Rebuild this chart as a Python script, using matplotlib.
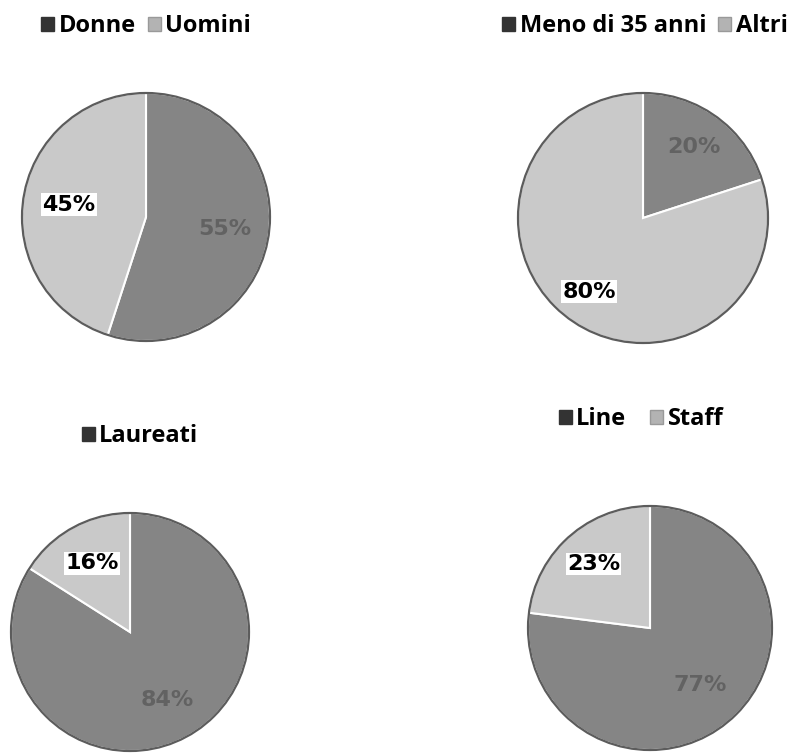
import matplotlib
matplotlib.use('Agg')
import matplotlib.pyplot as plt
import numpy as np
from matplotlib.patches import Circle, Patch

plt.rcParams['font.family'] = ['Open Sans', 'DejaVu Sans']

# four small pies: first slice is the dark one, drawn clockwise from 12 o'clock
gender_labels = ['Donne', 'Uomini']
gender_values = [55, 45]
age_labels = ['Meno di 35 anni', 'Altri']
age_values = [20, 80]
degree_labels = ['Laureati', 'Non laureati']
degree_values = [84, 16]
role_labels = ['Line', 'Staff']
role_values = [77, 23]

DARK = '#858585'
LIGHT = '#c9c9c9'
W, H = 793, 753

fig = plt.figure(figsize=(W / 100, H / 100), dpi=100)
fig.patch.set_facecolor('white')


def draw_pie(cx, cy, r, values, labels, legend_xy, legend_n=2, pctd=(0.65, 0.65), colsp=0.5):
    ax = fig.add_axes([(cx - r) / W, (H - cy - r) / H, 2 * r / W, 2 * r / H])
    wedges, _ = ax.pie(values, colors=[DARK, LIGHT], startangle=90, counterclock=False,
                       wedgeprops=dict(edgecolor='white', linewidth=1.5))
    for w in wedges:
        w.set_clip_on(False)
    ax.add_patch(Circle((0, 0), 1, fill=False, edgecolor='#5c5c5c', linewidth=1.6,
                        zorder=5, clip_on=False))
    ax.set_xlim(-1, 1)
    ax.set_ylim(-1, 1)
    ax.set_aspect('equal')
    ax.axis('off')
    # percentage labels at the middle of each slice
    total = sum(values)
    start = 90.0
    for i, v in enumerate(values):
        span = 360.0 * v / total
        mid = np.deg2rad(start - span / 2)
        start -= span
        x, y = pctd[i] * np.cos(mid), pctd[i] * np.sin(mid)
        txt = '%d%%' % v
        if i == 0:
            ax.text(x, y, txt, ha='center', va='center', fontsize=16, fontweight='bold',
                    family='DejaVu Sans', color='#626262', zorder=6)
        else:
            ax.text(x, y, txt, ha='center', va='center', fontsize=16, fontweight='bold',
                    family='DejaVu Sans', color='black', zorder=6,
                    bbox=dict(boxstyle='square,pad=0.06', facecolor='white', edgecolor='none'))
    handles = [Patch(facecolor='#333333', edgecolor='#333333'),
               Patch(facecolor='#b3b3b3', edgecolor='#999999')][:legend_n]
    fig.legend(handles, labels[:legend_n], loc='center',
               bbox_to_anchor=(legend_xy[0] / W, 1 - legend_xy[1] / H),
               ncol=legend_n, frameon=False, handlelength=0.55, handleheight=0.55,
               handletextpad=0.2, columnspacing=colsp,
               prop=dict(size=17, weight='bold'))


draw_pie(146, 217, 124, gender_values, gender_labels, (146, 26), pctd=(0.64, 0.63))
draw_pie(643, 218, 125, age_values, age_labels, (645, 26), pctd=(0.7, 0.73))
draw_pie(130, 632, 119, degree_values, degree_labels, (140, 436), legend_n=1, pctd=(0.65, 0.66))
draw_pie(650, 628, 122, role_values, role_labels, (641, 419), pctd=(0.62, 0.7), colsp=1.0)

fig.savefig('out.png', dpi=100, facecolor='white')
